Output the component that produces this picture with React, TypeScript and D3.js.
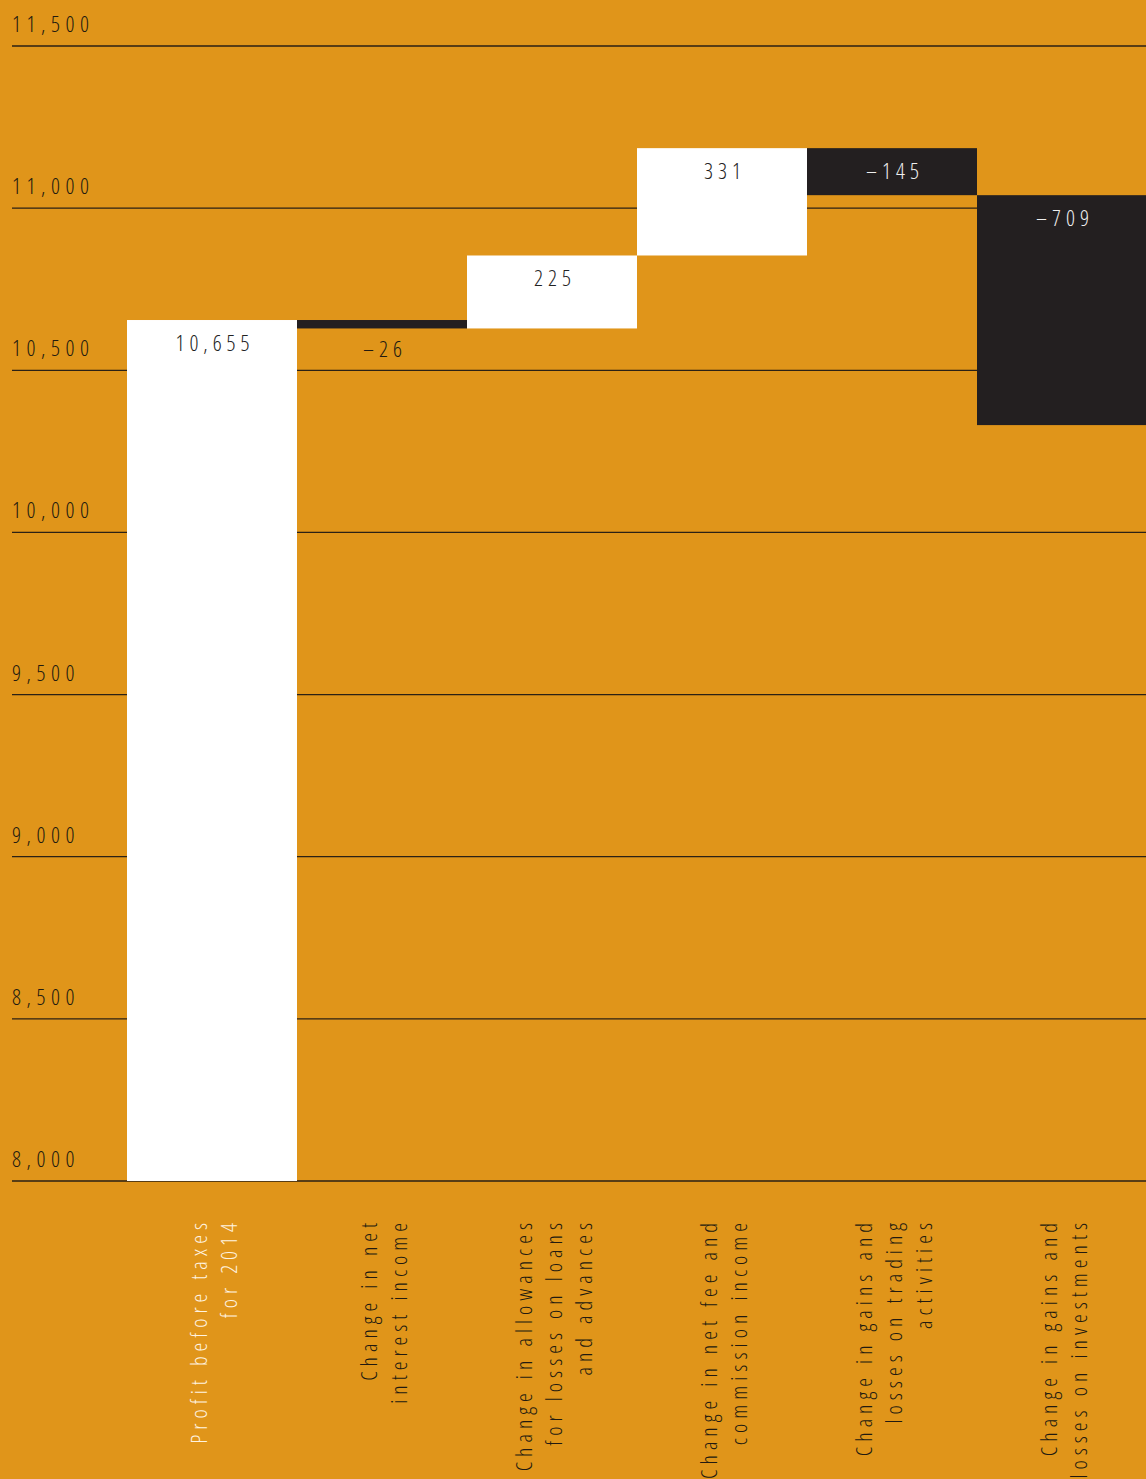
import React from "react";
import * as d3 from "d3";

const categories = ["c0", "c1", "c2", "c3", "c4", "c5"];
const categoryLines: string[][] = [
  ["Profit before taxes", "for 2014"],
  ["Change in net", "interest income"],
  ["Change in allowances", "for losses on loans", "and advances"],
  ["Change in net fee and", "commission income"],
  ["Change in gains and", "losses on trading", "activities"],
  ["Change in gains and", "losses on investments"],
];
const startValue = 10655;
const deltas = [-26, 225, 331, -145, -709];
const yTicks = [8000, 8500, 9000, 9500, 10000, 10500, 11000, 11500];

const W = 1146;
const H = 1479;
const BG = "#E0951A";
const DARK = "#231F20";
const TEXT_DARK = "#221a10";
const FONT = "'Open Sans', 'DejaVu Sans', sans-serif";

export default function App() {
  const x = d3.scaleBand<string>().domain(categories).range([127, 1147]).padding(0);
  const y = d3.scaleLinear().domain([8000, 11500]).range([1181, 46]);
  const fmt = d3.format(",");

  type Bar = { key: string; y0: number; y1: number; kind: "total" | "up" | "down"; label: string };
  const bars: Bar[] = [];
  bars.push({ key: categories[0], y0: 8000, y1: startValue, kind: "total", label: fmt(startValue) });
  let cum = startValue;
  deltas.forEach((d, i) => {
    const a = cum;
    cum += d;
    bars.push({
      key: categories[i + 1],
      y0: a,
      y1: cum,
      kind: d >= 0 ? "up" : "down",
      label: d >= 0 ? fmt(d) : "\u2013" + fmt(Math.abs(d)),
    });
  });

  const textStyle: React.CSSProperties = {
    fontFamily: FONT,
    fontStretch: "condensed",
    fontWeight: 300,
  };

  return (
    <div style={{ position: "absolute", left: 0, top: 0 }}>
      <svg width={W} height={H} style={{ display: "block" }}>
        <rect x={0} y={0} width={W} height={H} fill={BG} />
        {yTicks.map((t) => (
          <g key={t}>
            <line x1={12} x2={W} y1={y(t)} y2={y(t)} stroke="#2b2115" strokeWidth={1.3} />
          </g>
        ))}
        {bars.map((b) => {
          const top = y(Math.max(b.y0, b.y1));
          const bot = y(Math.min(b.y0, b.y1));
          const fill = b.kind === "down" ? DARK : "#ffffff";
          return (
            <rect key={b.key} x={x(b.key)} y={top} width={x.bandwidth()} height={bot - top} fill={fill} />
          );
        })}
        {yTicks.map((t) => (
          <text
            key={"l" + t}
            x={12}
            y={y(t) - 14}
            fontSize={22}
            letterSpacing={5.6}
            fill={TEXT_DARK}
            style={textStyle}
          >
            {fmt(t)}
          </text>
        ))}
        {bars.map((b) => {
          const top = y(Math.max(b.y0, b.y1));
          const bot = y(Math.min(b.y0, b.y1));
          const small = bot - top < 40;
          const cx = (x(b.key) as number) + x.bandwidth() / 2;
          const ly = small ? bot + 29 : top + 31;
          const color = small ? TEXT_DARK : b.kind === "down" ? "#eeeeee" : "#222222";
          return (
            <text
              key={"v" + b.key}
              x={cx + 3}
              y={ly}
              textAnchor="middle"
              fontSize={22}
              letterSpacing={5.0}
              fill={color}
              style={textStyle}
            >
              {b.label}
            </text>
          );
        })}
        {categories.map((c, ci) => {
          const cx = (x(c) as number) + x.bandwidth() / 2;
          const lines = categoryLines[ci];
          const n = lines.length;
          return (
            <g key={"c" + c}>
              {lines.map((ln, i) => {
                const bx = cx + (i - (n - 1) / 2) * 30 + 9.5;
                return (
                  <text
                    key={i}
                    transform={`translate(${bx},1218) rotate(-90)`}
                    textAnchor="end"
                    fontSize={22}
                    letterSpacing={5.0}
                    fill={ci === 0 ? "#fff3e0" : TEXT_DARK}
                    style={textStyle}
                  >
                    {ln}
                  </text>
                );
              })}
            </g>
          );
        })}
      </svg>
    </div>
  );
}
